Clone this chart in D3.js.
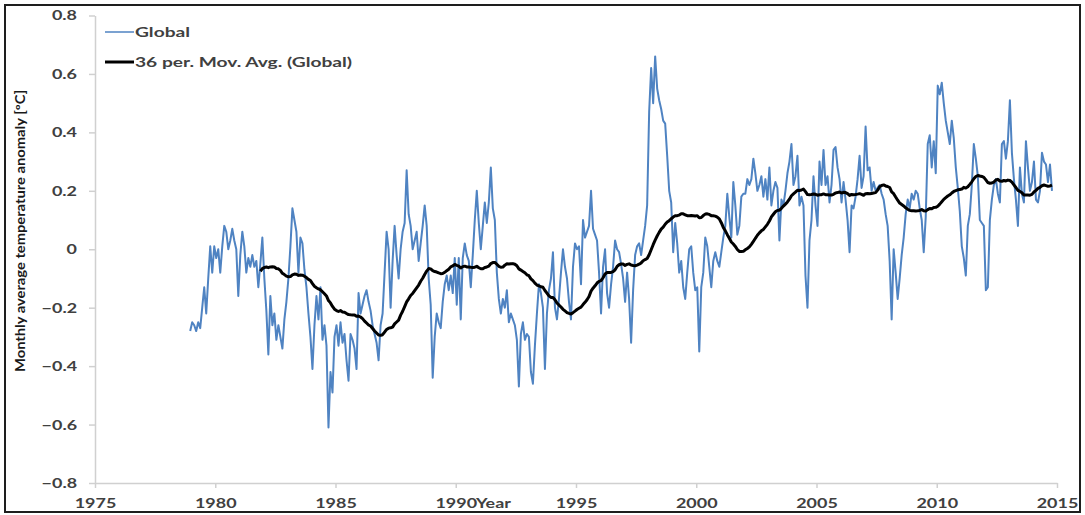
<!DOCTYPE html>
<html>
<head>
<meta charset="utf-8">
<script src="https://cdn.jsdelivr.net/npm/d3@7"></script>
<style>
  html, body { margin: 0; padding: 0; background: #fff; }
  svg { display: block; }
</style>
</head>
<body>
<svg id="chart" width="1085" height="515"></svg>
<script>
// Monthly global temperature anomaly (°C), one row per year, first value = Dec 1978.
const firstYear = 1978;
const firstMonth = 12;
const globalAnomaly = [
  -0.28,
  -0.25,-0.26,-0.28,-0.25,-0.27,-0.20,-0.13,-0.22,-0.10, 0.01,-0.08, 0.01, // 1979
  -0.03, 0.00,-0.08, 0.01, 0.08, 0.06, 0.00, 0.03, 0.07, 0.03, 0.00,-0.16, // 1980
  -0.02, 0.06, 0.01,-0.08,-0.03,-0.06,-0.02,-0.06,-0.04,-0.13,-0.05, 0.04, // 1981
  -0.10,-0.21,-0.36,-0.16,-0.26,-0.22,-0.31,-0.26,-0.30,-0.34,-0.24,-0.18, // 1982
  -0.10, 0.01, 0.14, 0.10, 0.06,-0.08, 0.04, 0.02,-0.07,-0.13,-0.22,-0.30, // 1983
  -0.41,-0.26,-0.16,-0.24,-0.13,-0.31,-0.26,-0.33,-0.61,-0.42,-0.49,-0.30, // 1984
  -0.26,-0.33,-0.25,-0.32,-0.29,-0.38,-0.45,-0.29,-0.31,-0.34,-0.41,-0.15, // 1985
  -0.22,-0.19,-0.16,-0.14,-0.18,-0.21,-0.26,-0.29,-0.32,-0.38,-0.26,-0.22, // 1986
  -0.08, 0.06, 0.00,-0.20,-0.04, 0.08,-0.02,-0.10, 0.00, 0.06, 0.09, 0.27, // 1987
   0.12, 0.08, 0.00, 0.03, 0.06,-0.04, 0.02, 0.08, 0.15, 0.08,-0.10,-0.19, // 1988
  -0.44,-0.30,-0.22,-0.25,-0.27,-0.18,-0.12,-0.09,-0.14,-0.09,-0.15,-0.03, // 1989
  -0.19,-0.03,-0.24,-0.03, 0.02,-0.02,-0.04,-0.13,-0.02, 0.10, 0.20, 0.09, // 1990
   0.00, 0.08, 0.16, 0.09, 0.16, 0.28, 0.14, 0.10,-0.08,-0.17,-0.22,-0.17, // 1991
  -0.20,-0.14,-0.25,-0.22,-0.24,-0.26,-0.31,-0.47,-0.29,-0.25,-0.31,-0.29, // 1992
  -0.30,-0.42,-0.46,-0.33,-0.22,-0.12,-0.15,-0.20,-0.41,-0.22,-0.14,-0.10, // 1993
  -0.01,-0.20,-0.24,-0.17,-0.08, 0.00,-0.06,-0.10,-0.18,-0.24,-0.06, 0.02, // 1994
   0.00, 0.01,-0.12, 0.10, 0.04, 0.06, 0.08, 0.20, 0.07, 0.05, 0.03,-0.08, // 1995
  -0.22,-0.06, 0.00,-0.15,-0.20,-0.12,-0.06, 0.03, 0.00,-0.01,-0.05,-0.10, // 1996
  -0.18,-0.08,-0.17,-0.32,-0.14,-0.02, 0.01, 0.02,-0.02, 0.03, 0.08, 0.15, // 1997
   0.47, 0.62, 0.50, 0.66, 0.55, 0.51, 0.48, 0.44, 0.43, 0.32, 0.20, 0.16, // 1998
  -0.01, 0.09, 0.02,-0.08,-0.04,-0.13,-0.17,-0.08, 0.00, 0.01,-0.08,-0.14, // 1999
  -0.13,-0.35,-0.13,-0.08, 0.04, 0.01,-0.06,-0.13,-0.04,-0.01,-0.04,-0.06, // 2000
  -0.01, 0.04, 0.08, 0.19, 0.11, 0.04, 0.23, 0.15, 0.05, 0.08, 0.18, 0.19, // 2001
   0.19, 0.24, 0.22, 0.24, 0.31, 0.26, 0.20, 0.22, 0.25, 0.18, 0.24, 0.17, // 2002
   0.28, 0.15, 0.20, 0.23, 0.21, 0.03, 0.17, 0.15, 0.20, 0.26, 0.30, 0.36, // 2003
   0.22, 0.25, 0.32, 0.15, 0.18, 0.15,-0.09,-0.20, 0.03, 0.10, 0.25, 0.15, // 2004
   0.08, 0.30, 0.22, 0.34, 0.22, 0.25, 0.16, 0.22, 0.34, 0.35, 0.28, 0.24, // 2005
   0.16, 0.23, 0.17, 0.10,-0.01, 0.15, 0.14, 0.18, 0.24, 0.32, 0.21, 0.25, // 2006
   0.42, 0.27, 0.28, 0.20, 0.23, 0.20, 0.21, 0.22, 0.19, 0.17, 0.12, 0.08, // 2007
  -0.04,-0.24, 0.00,-0.08,-0.17,-0.10,-0.02, 0.04, 0.12, 0.17, 0.14, 0.19, // 2008
   0.17, 0.20, 0.19, 0.14, 0.10,-0.01, 0.11, 0.36, 0.39, 0.28, 0.37, 0.26, // 2009
   0.56, 0.53, 0.57, 0.50, 0.44, 0.40, 0.36, 0.44, 0.38, 0.28, 0.21, 0.13, // 2010
   0.01,-0.03,-0.09, 0.08, 0.12, 0.22, 0.36, 0.31, 0.25, 0.10, 0.09, 0.08, // 2011
  -0.14,-0.13, 0.10, 0.17, 0.22, 0.24, 0.19, 0.16, 0.36, 0.37, 0.31, 0.37, // 2012
   0.51, 0.33, 0.24, 0.17, 0.08, 0.28, 0.19, 0.16, 0.37, 0.28, 0.20, 0.23, // 2013
   0.30, 0.17, 0.16, 0.20, 0.33, 0.30, 0.29, 0.23, 0.29, 0.20              // 2014
];

const seriesNames = ["Global", "36 per. Mov. Avg. (Global)"];
const movingPeriod = 36;
const xTicks = [1975, 1980, 1985, 1990, 1995, 2000, 2005, 2010, 2015];
const yTicks = [-0.8, -0.6, -0.4, -0.2, 0, 0.2, 0.4, 0.6, 0.8];
const xTitle = "Year";
const yTitle = "Monthly average temperature anomaly [ºC]";

// ---- layout ----
const svg = d3.select("#chart");
const FONT = "Lato, 'Open Sans', sans-serif";
const TEXT = "#404040";
const AXIS = "#d0d0d0";
const BLUE = "#4f83c2";
const STRETCH = 1.28; // text in this chart is drawn wide

const x = d3.scaleLinear().domain([1975, 2015]).range([95, 1057]);
const y = d3.scaleLinear().domain([-0.8, 0.8]).range([483, 15.5]);

function widen(sel, k) {
  sel.each(function () {
    const w = this.getComputedTextLength();
    this.setAttribute("textLength", (w * k).toFixed(1));
    this.setAttribute("lengthAdjust", "spacingAndGlyphs");
  });
}

// frame
svg.append("rect")
  .attr("x", 5).attr("y", 5).attr("width", 1075).attr("height", 507)
  .attr("fill", "none").attr("stroke", "#1e1e1e").attr("stroke-width", 2);

// data points with decimal-year positions (mid-month)
const points = globalAnomaly.map((v, i) => {
  const m = firstMonth - 1 + i;
  return { t: firstYear + Math.floor(m / 12) + ((m % 12) + 0.5) / 12, v };
});

// trailing moving average over movingPeriod months
const avgPoints = points.slice(movingPeriod - 1).map((p, i) => ({
  t: p.t,
  v: d3.mean(points.slice(i, i + movingPeriod), d => d.v)
}));

// axes
const yAxis = svg.append("g")
  .attr("transform", `translate(${x(1975)},0)`)
  .call(d3.axisLeft(y).tickValues(yTicks).tickSize(6).tickSizeOuter(0).tickPadding(12)
    .tickFormat(d => d === 0 ? "0" : d3.format(".1f")(d)));
const xAxis = svg.append("g")
  .attr("transform", `translate(0,${y(-0.8)})`)
  .call(d3.axisBottom(x).tickValues(xTicks).tickSize(5).tickSizeOuter(0).tickPadding(10)
    .tickFormat(d3.format("d")));

[yAxis, xAxis].forEach(g => {
  g.select(".domain").attr("stroke", AXIS).attr("stroke-width", 1.5);
  g.selectAll(".tick line").attr("stroke", AXIS).attr("stroke-width", 1.5);
  g.selectAll(".tick text")
    .attr("fill", TEXT).style("font-family", FONT)
    .style("font-size", "14px").style("font-weight", "bold");
  widen(g.selectAll(".tick text"), STRETCH);
});

// series lines
const line = d3.line().x(d => x(d.t)).y(d => y(d.v));
svg.append("path").datum(points)
  .attr("d", line).attr("fill", "none")
  .attr("stroke", BLUE).attr("stroke-width", 2).attr("stroke-linejoin", "round");
svg.append("path").datum(avgPoints)
  .attr("d", line).attr("fill", "none")
  .attr("stroke", "#000").attr("stroke-width", 3).attr("stroke-linejoin", "round");

// axis titles
const yt = svg.append("text")
  .attr("transform", "translate(25,231) rotate(-90)")
  .attr("text-anchor", "middle")
  .attr("fill", "#1a1a1a").style("font-family", FONT)
  .style("font-size", "12.5px").style("font-weight", "bold")
  .text(yTitle);
yt.attr("textLength", 282).attr("lengthAdjust", "spacingAndGlyphs");

const xt = svg.append("text")
  .attr("x", 476).attr("y", y(-0.8) + 25)
  .attr("fill", TEXT).style("font-family", FONT)
  .style("font-size", "14px").style("font-weight", "bold")
  .text(xTitle);
widen(xt, STRETCH);

// legend
const legend = svg.append("g");
const legendRows = [
  { name: seriesNames[0], color: BLUE, width: 1.5, yPos: 32 },
  { name: seriesNames[1], color: "#000", width: 3, yPos: 62 }
];
legendRows.forEach(r => {
  legend.append("line")
    .attr("x1", 105).attr("x2", 134).attr("y1", r.yPos).attr("y2", r.yPos)
    .attr("stroke", r.color).attr("stroke-width", r.width);
  const t = legend.append("text")
    .attr("x", 135).attr("y", r.yPos).attr("dy", "0.35em")
    .attr("fill", TEXT).style("font-family", FONT)
    .style("font-size", "13.5px").style("font-weight", "bold")
    .text(r.name);
  widen(t, 1.42);
});
</script>
</body>
</html>
